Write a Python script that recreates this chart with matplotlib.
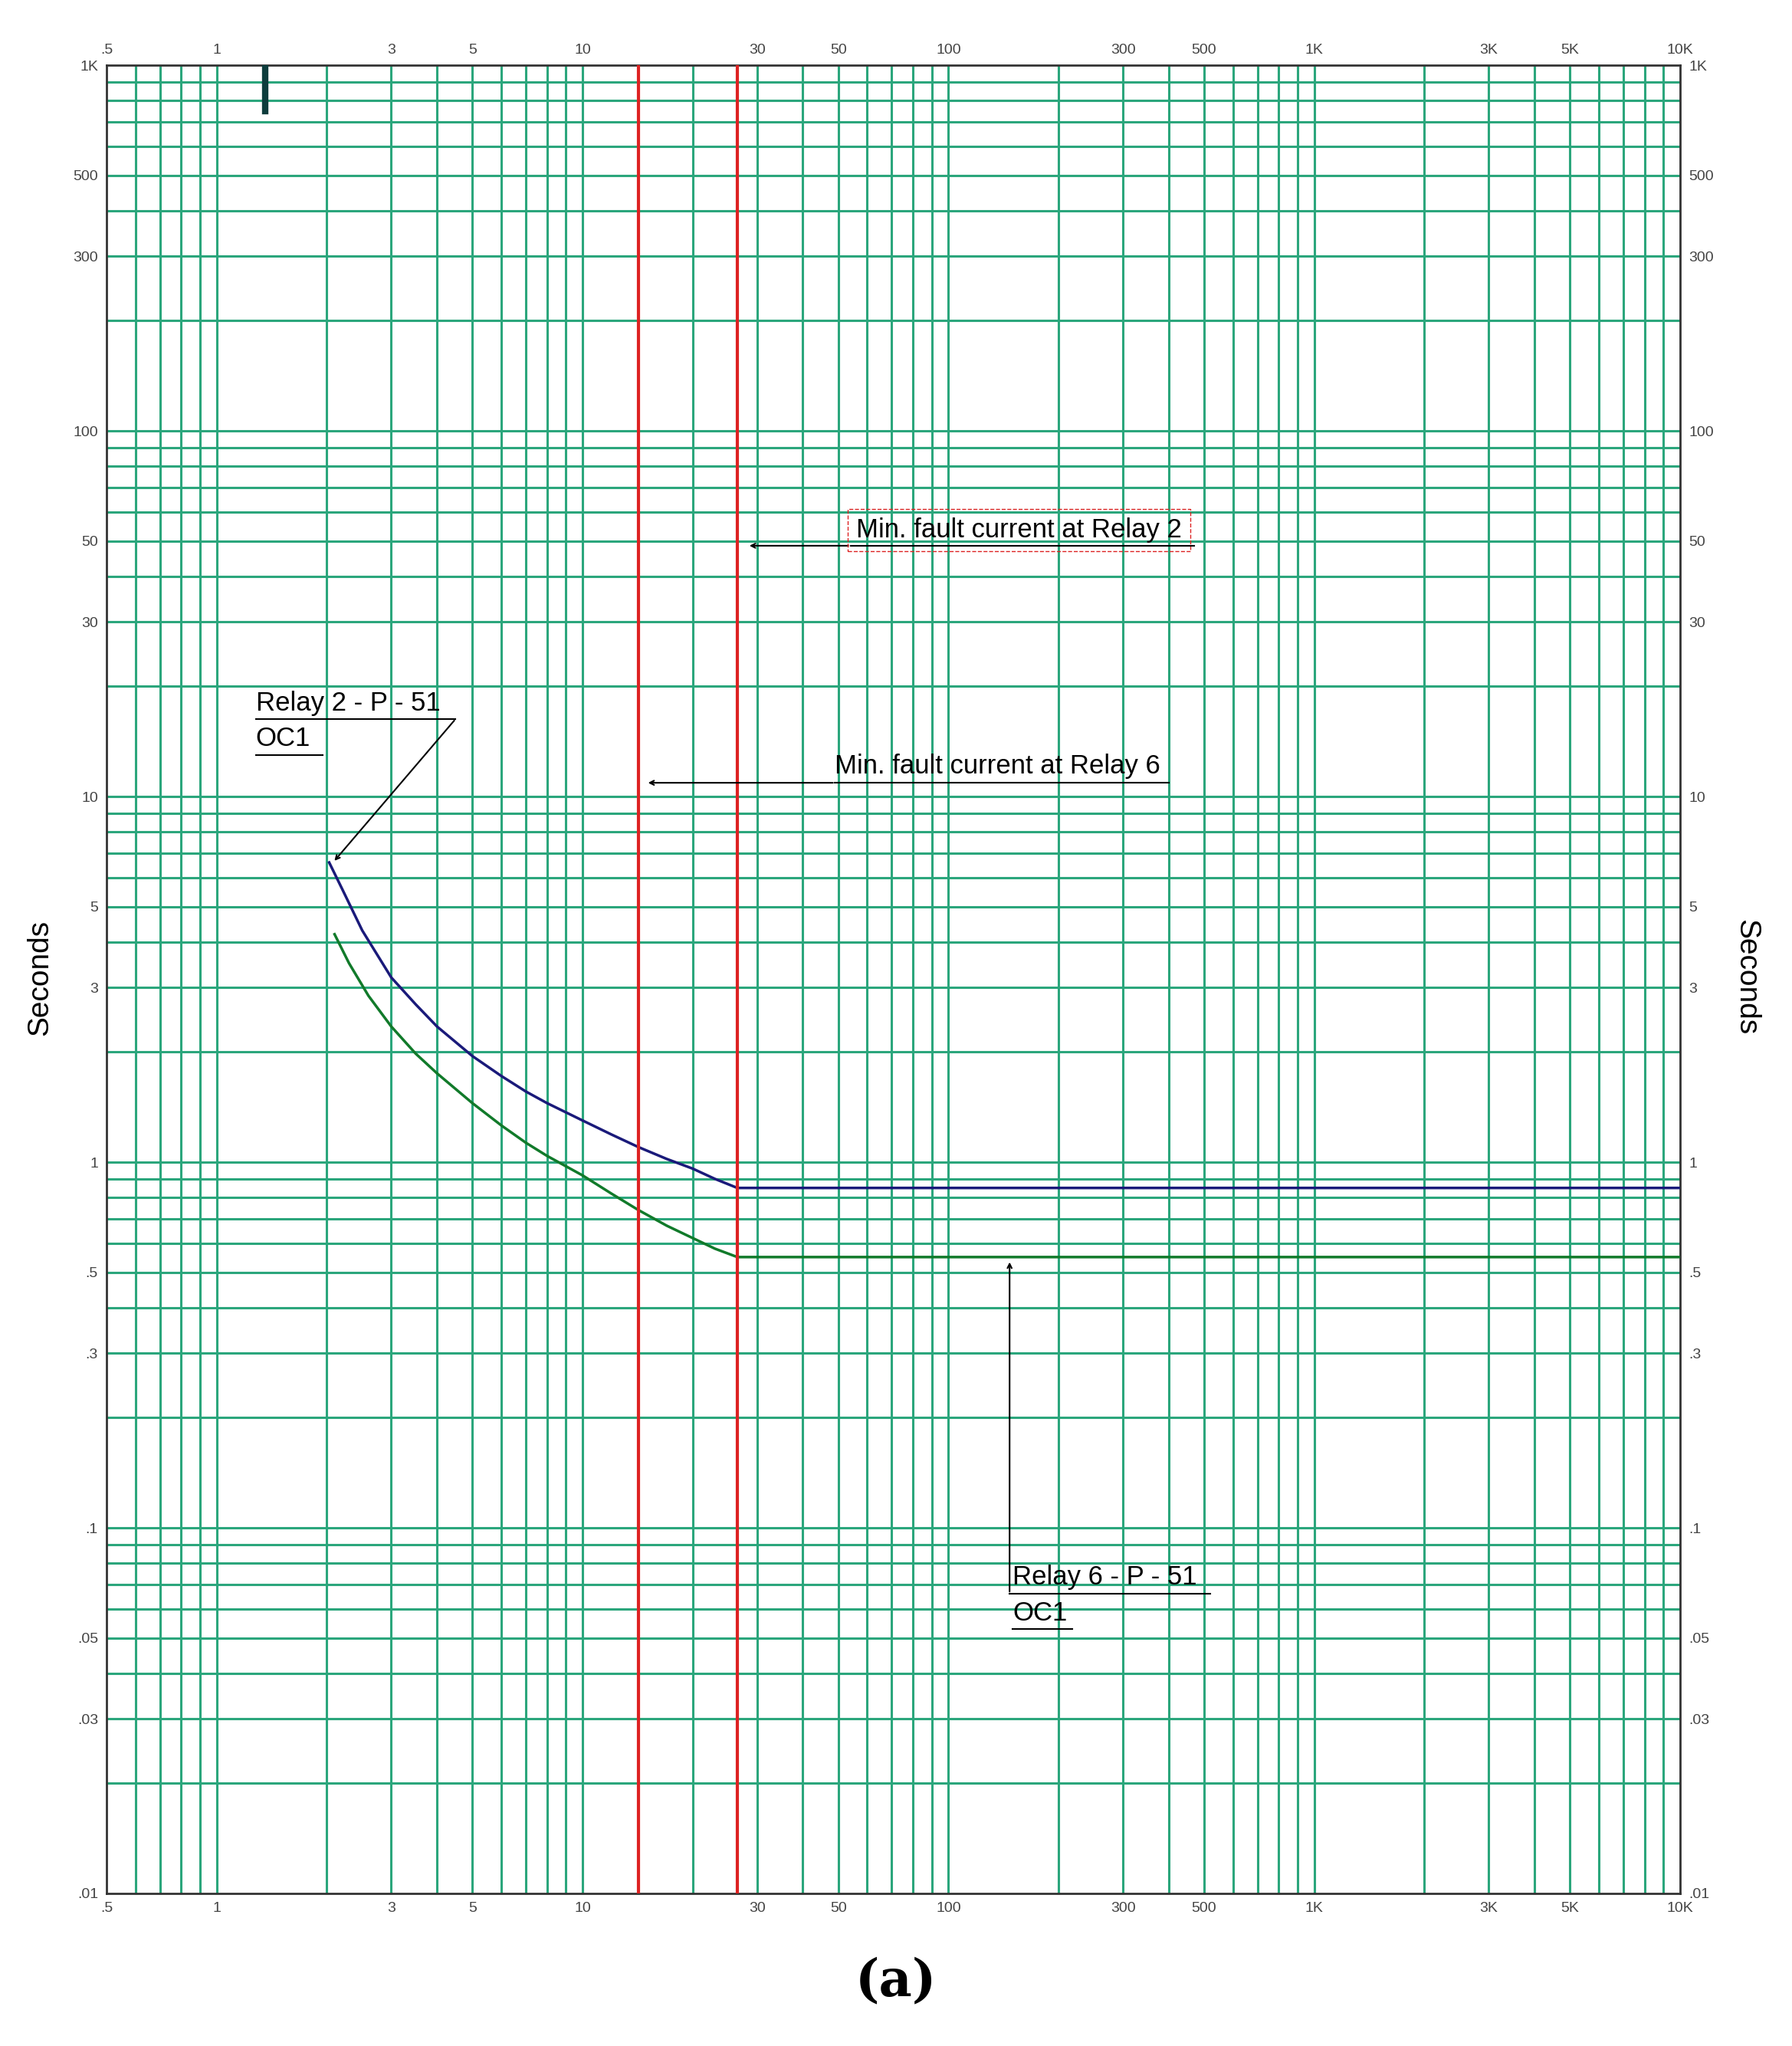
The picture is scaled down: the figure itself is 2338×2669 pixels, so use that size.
import matplotlib
matplotlib.use("Agg")
import matplotlib.pyplot as plt
import numpy as np

xticks = [0.5, 1, 3, 5, 10, 30, 50, 100, 300, 500, 1000, 3000, 5000, 10000]
xlabels = [".5", "1", "3", "5", "10", "30", "50", "100", "300", "500", "1K", "3K", "5K", "10K"]
yticks = [0.01, 0.03, 0.05, 0.1, 0.3, 0.5, 1, 3, 5, 10, 30, 50, 100, 300, 500, 1000]
ylabels = [".01", ".03", ".05", ".1", ".3", ".5", "1", "3", "5", "10", "30", "50", "100", "300", "500", "1K"]

relay2_x = [2.03, 2.2, 2.5, 3, 3.5, 4, 5, 6, 7, 8, 10, 12, 14.2, 17, 20, 23, 26.5, 10000]
relay2_y = [6.6, 5.6, 4.3, 3.2, 2.7, 2.35, 1.95, 1.72, 1.56, 1.45, 1.3, 1.19, 1.1, 1.02, 0.96, 0.9, 0.85, 0.85]
relay6_x = [2.1, 2.3, 2.6, 3, 3.5, 4, 5, 6, 7, 8, 10, 12, 14.2, 17, 20, 23, 26.5, 10000]
relay6_y = [4.2, 3.5, 2.85, 2.35, 1.98, 1.75, 1.45, 1.26, 1.13, 1.04, 0.92, 0.82, 0.74, 0.67, 0.62, 0.58, 0.55, 0.55]
fault_relay6 = 14.2
fault_relay2 = 26.5

plt.rcParams['font.family'] = ['Liberation Sans', 'DejaVu Sans']
fig = plt.figure(figsize=(23.38, 26.69), dpi=100)
ax = fig.add_axes([139/2338, 1-2470/2669, (2192-139)/2338, (2470-85)/2669])
ax.set_xscale("log"); ax.set_yscale("log")
ax.set_xlim(0.5, 10000); ax.set_ylim(0.01, 1000)

grid_c = "#2ba67c"
for d in range(-1, 5):
    for m in range(1, 10):
        v = m * 10.0**d
        if 0.5 < v < 10000:
            ax.axvline(v, color=grid_c, lw=2.2, zorder=1)
for d in range(-2, 3):
    for m in range(1, 10):
        v = m * 10.0**d
        if 0.01 < v < 1000:
            ax.axhline(v, color=grid_c, lw=2.2, zorder=1)

ax.set_xticks(xticks); ax.set_xticklabels(xlabels)
ax.set_yticks(yticks); ax.set_yticklabels(ylabels)
ax.minorticks_off()
ax.tick_params(axis="both", length=0, labelsize=14, labelcolor="#444444",
               top=True, labeltop=True, right=True, labelright=True, pad=8)
for s in ax.spines.values():
    s.set_color("#333333"); s.set_linewidth(2)

ax.plot(relay2_x, relay2_y, color="#1a1a7a", lw=2.5, zorder=3)
ax.plot(relay6_x, relay6_y, color="#117a2a", lw=2.5, zorder=3)
ax.axvline(fault_relay6, color="#dd2222", lw=3, zorder=4)
ax.axvline(fault_relay2, color="#dd2222", lw=3, zorder=4)
ax.plot([1.36, 1.36], [1000, 750], color="#0d3d3d", lw=6, zorder=4)

fs = 25
ap = dict(arrowstyle="->", color="black", lw=1.5)
# Relay 2 min fault
ax.annotate("", xy=(28.2, 48.5), xytext=(54, 48.5), arrowprops=ap, zorder=5)
ax.text(56, 49.5, "Min. fault current at Relay 2", fontsize=fs, va="bottom", ha="left", zorder=5,
        bbox=dict(facecolor="none", edgecolor="#dd2222", ls="--", pad=8))
ax.plot([54, 470], [48.5, 48.5], color="black", lw=1.5, zorder=5)
# Relay 6 min fault
ax.annotate("", xy=(14.9, 10.9), xytext=(49, 10.9), arrowprops=ap, zorder=5)
ax.text(49, 11.2, "Min. fault current at Relay 6", fontsize=fs, va="bottom", ha="left", zorder=5)
ax.plot([49, 400], [10.9, 10.9], color="black", lw=1.5, zorder=5)
# Relay 2 label
ax.text(1.28, 16.6, "Relay 2 - P - 51", fontsize=fs, va="bottom", ha="left", zorder=5)
ax.plot([1.28, 4.5], [16.3, 16.3], color="black", lw=1.5, zorder=5)
ax.text(1.28, 13.3, "OC1", fontsize=fs, va="bottom", ha="left", zorder=5)
ax.plot([1.28, 1.95], [13.0, 13.0], color="black", lw=1.5, zorder=5)
ax.annotate("", xy=(2.08, 6.6), xytext=(4.5, 16.3), arrowprops=ap, zorder=5)
# Relay 6 label
ax.text(150, 0.0675, "Relay 6 - P - 51", fontsize=fs, va="bottom", ha="left", zorder=5)
ax.plot([147, 520], [0.066, 0.066], color="black", lw=1.5, zorder=5)
ax.text(150, 0.054, "OC1", fontsize=fs, va="bottom", ha="left", zorder=5)
ax.plot([150, 218], [0.053, 0.053], color="black", lw=1.5, zorder=5)
ax.annotate("", xy=(147, 0.54), xytext=(147, 0.066), arrowprops=ap, zorder=5)

fig.text(52/2338, 1-1275/2669, "Seconds", rotation=90, fontsize=28, ha="center", va="center")
fig.text(2278/2338, 1-1275/2669, "Seconds", rotation=-90, fontsize=28, ha="center", va="center")
fig.text(0.5, 1-2585/2669, "(a)", fontsize=48, family="DejaVu Serif", fontweight="bold", ha="center", va="center")

fig.savefig("out.png", dpi=100)
